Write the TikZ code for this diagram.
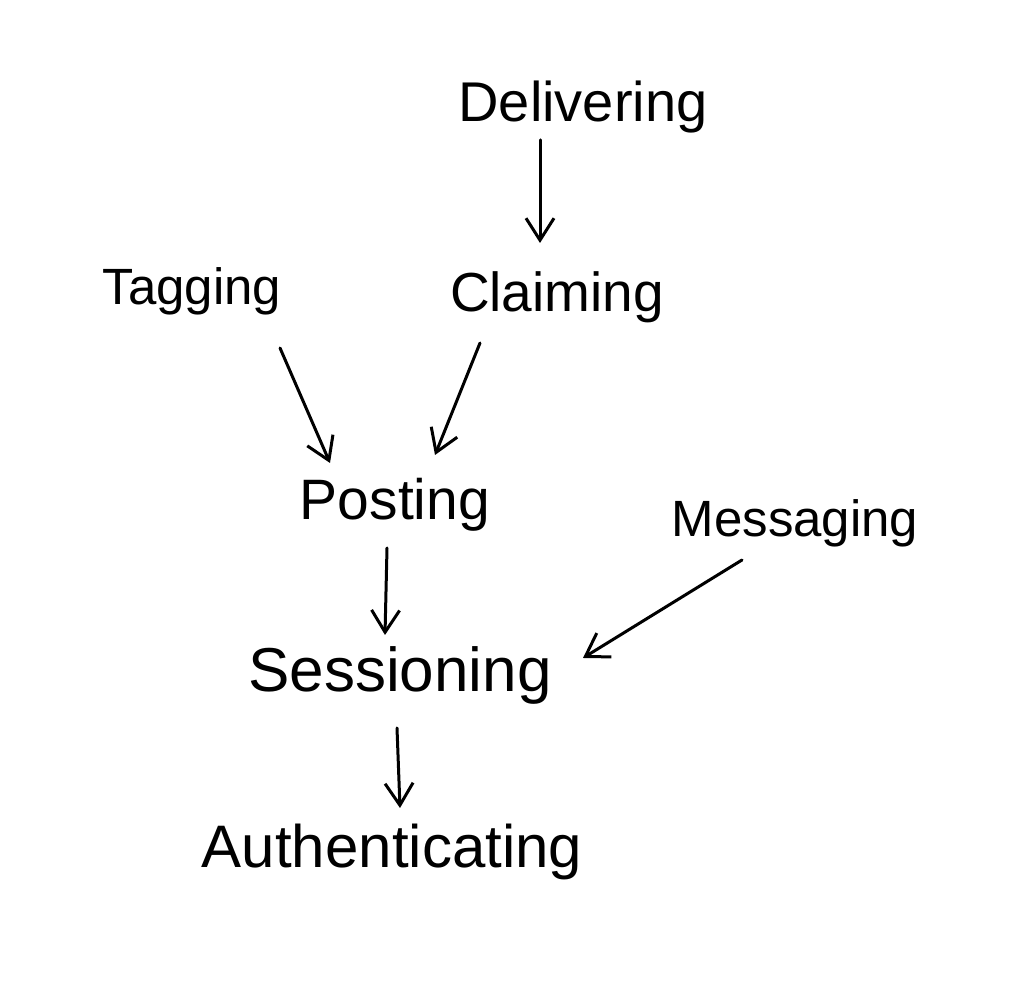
\documentclass[tikz,border=0pt]{standalone}
\usepackage{fontspec}
\setmainfont{Liberation Sans}
\usetikzlibrary{arrows.meta}
\begin{document}
\begin{tikzpicture}[x=1pt,y=1pt,
  lbl/.style={font=\fontsize{#1}{#1}\selectfont, anchor=base, inner sep=0pt},
  arr/.style={line width=3pt, line cap=round, line join=round,
    -{Straight Barb[length=22pt,width=28pt,line width=3pt]}}]
\useasboundingbox[fill=white] (0,0) rectangle (1018,1000);
\node[lbl=56] (deliv) at (583,878) {Delivering};
\node[lbl=51] (tag)   at (192,695) {Tagging};
\node[lbl=55] (claim) at (557,688) {Claiming};
\node[lbl=57] (post)  at (395,480) {Posting};
\node[lbl=51] (mess)  at (795,463) {Messaging};
\node[lbl=62] (sess)  at (400,308) {Sessioning};
\node[lbl=60] (auth)  at (392,132) {Authenticating};
\draw[arr] ([shift={(-43,-18)}]deliv.base) -- ([shift={(-17,69)}]claim.base);
\draw[arr] ([shift={(88,-43)}]tag.base) -- ([shift={(-65,57)}]post.base);
\draw[arr] ([shift={(-77,-31)}]claim.base) -- ([shift={(40,65)}]post.base);
\draw[arr] ([shift={(-8,-28)}]post.base) -- ([shift={(-15,57)}]sess.base);
\draw[arr] ([shift={(-53,-23)}]mess.base) -- ([shift={(183,34)}]sess.base);
\draw[arr] ([shift={(-3,-36)}]sess.base) -- ([shift={(8,60)}]auth.base);
\end{tikzpicture}
\end{document}
